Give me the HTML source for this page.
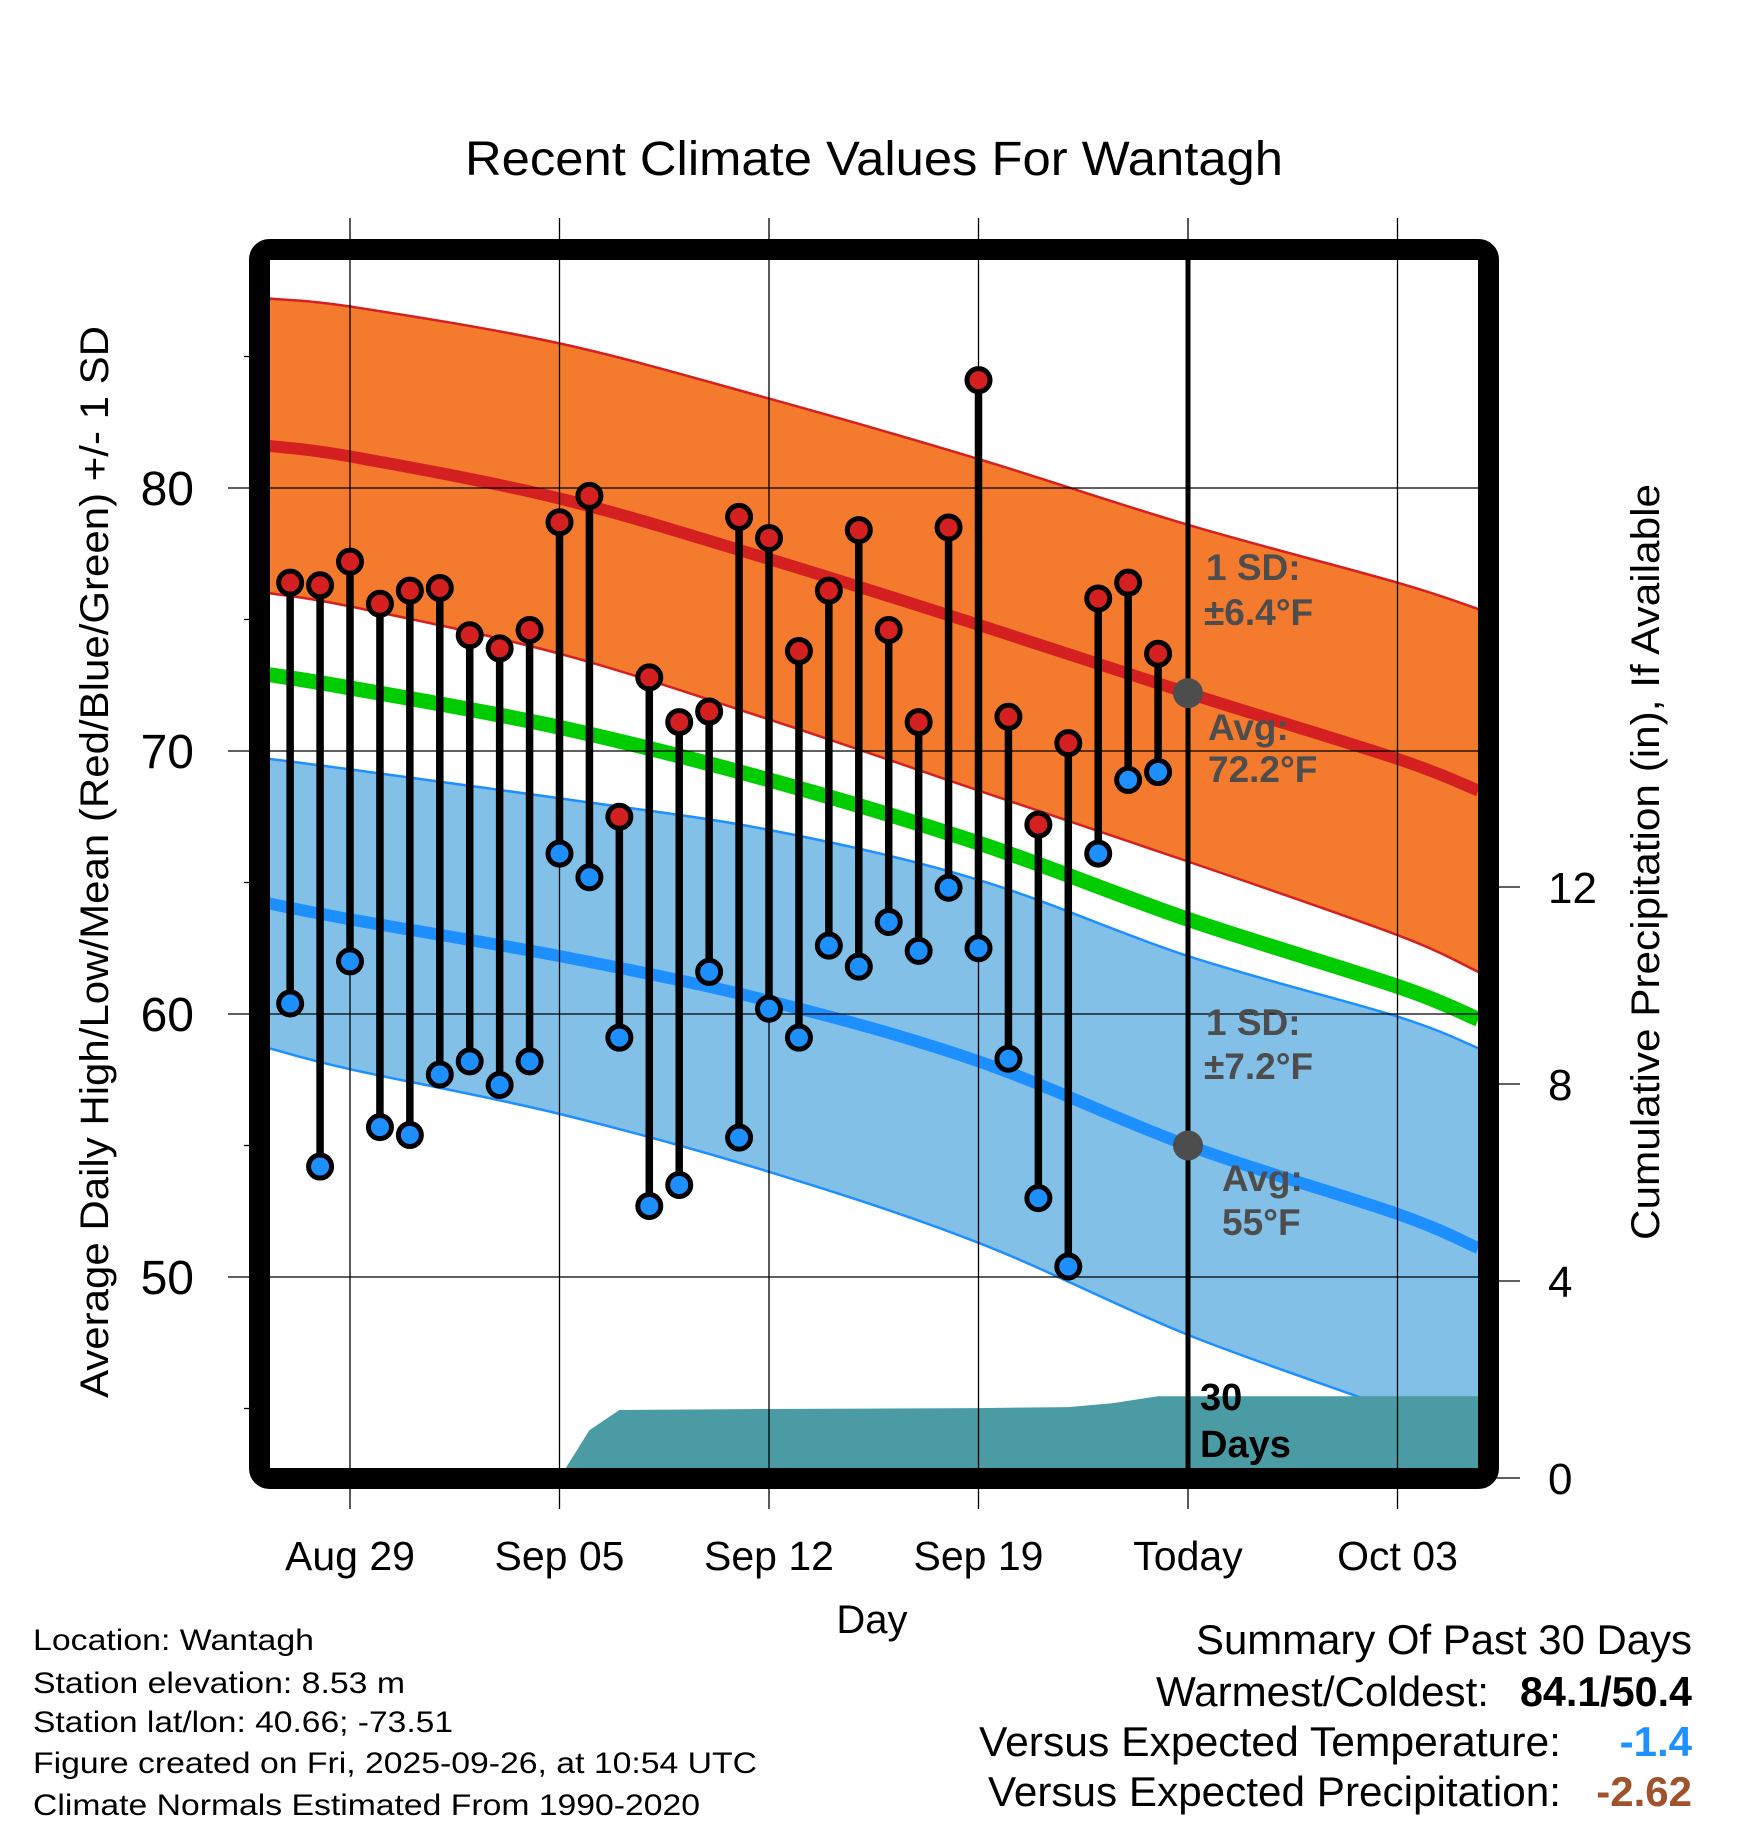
<!DOCTYPE html>
<html><head><meta charset="utf-8"><style>
html,body{margin:0;padding:0;background:#fff;}
svg{display:block;font-family:"Liberation Sans",sans-serif;}
</style></head><body>
<svg id="chart" width="1748" height="1828" viewBox="0 0 1748 1828" xmlns="http://www.w3.org/2000/svg">
<defs><clipPath id="plotclip"><rect x="270" y="260" width="1208" height="1208"/></clipPath></defs>
<text x="874" y="175" text-anchor="middle" font-size="48" textLength="818" lengthAdjust="spacingAndGlyphs">Recent Climate Values For Wantagh</text>
<g id="plot" clip-path="url(#plotclip)"></g>
<g id="overlay"></g>
<rect x="259.5" y="249.5" width="1229" height="1229" rx="10" fill="none" stroke="#000" stroke-width="21"/>
<g id="axes"></g>
<text transform="translate(108,862) rotate(-90)" text-anchor="middle" font-size="40" textLength="1072" lengthAdjust="spacingAndGlyphs">Average Daily High/Low/Mean (Red/Blue/Green) +/- 1 SD</text>
<text transform="translate(1659,862) rotate(-90)" text-anchor="middle" font-size="40" textLength="756" lengthAdjust="spacingAndGlyphs">Cumulative Precipitation (in), If Available</text>
<text x="872" y="1633" text-anchor="middle" font-size="40">Day</text>
<g font-size="30">
<text x="33" y="1650" textLength="281" lengthAdjust="spacingAndGlyphs">Location: Wantagh</text>
<text x="33" y="1693" textLength="372" lengthAdjust="spacingAndGlyphs">Station elevation: 8.53 m</text>
<text x="33" y="1732" textLength="420" lengthAdjust="spacingAndGlyphs">Station lat/lon: 40.66; -73.51</text>
<text x="33" y="1773" textLength="724" lengthAdjust="spacingAndGlyphs">Figure created on Fri, 2025-09-26, at 10:54 UTC</text>
<text x="33" y="1815" textLength="667" lengthAdjust="spacingAndGlyphs">Climate Normals Estimated From 1990-2020</text>
</g>
<g font-size="42">
<text x="1692" y="1654" text-anchor="end" textLength="496" lengthAdjust="spacingAndGlyphs">Summary Of Past 30 Days</text>
<text x="1489" y="1706" text-anchor="end" textLength="333" lengthAdjust="spacingAndGlyphs">Warmest/Coldest:</text>
<text x="1692" y="1706" text-anchor="end" font-weight="bold" textLength="172" lengthAdjust="spacingAndGlyphs">84.1/50.4</text>
<text x="1561" y="1756" text-anchor="end" textLength="582" lengthAdjust="spacingAndGlyphs">Versus Expected Temperature:</text>
<text x="1692" y="1756" text-anchor="end" font-weight="bold" fill="#1e90ff">-1.4</text>
<text x="1561" y="1806" text-anchor="end" textLength="573" lengthAdjust="spacingAndGlyphs">Versus Expected Precipitation:</text>
<text x="1692" y="1806" text-anchor="end" font-weight="bold" fill="#a0522d">-2.62</text>
</g>
</svg>
<script>
// ---- data ----
const normDays = [-2.7, 0, 7, 14, 21, 28, 35, 37.7];
const normHigh = [81.6, 81.2, 79.6, 77.3, 74.8, 72.2, 69.7, 68.5];
const normLow  = [64.2, 63.6, 62.2, 60.5, 58.2, 55.0, 52.4, 51.1];
const sdHigh   = [5.6, 5.7, 5.9, 6.1, 6.3, 6.4, 6.7, 6.9];
const sdLow    = [5.5, 5.7, 6.0, 6.5, 6.9, 7.2, 7.5, 7.6];
const obsDays  = [-2,-1,0,1,2,3,4,5,6,7,8,9,10,11,12,13,14,15,16,17,18,19,20,21,22,23,24,25,26,27];
const obsHigh  = [76.4,76.3,77.2,75.6,76.1,76.2,74.4,73.9,74.6,78.7,79.7,67.5,72.8,71.1,71.5,78.9,78.1,73.8,76.1,78.4,74.6,71.1,78.5,84.1,71.3,67.2,70.3,75.8,76.4,73.7];
const obsLow   = [60.4,54.2,62.0,55.7,55.4,57.7,58.2,57.3,58.2,66.1,65.2,59.1,52.7,53.5,61.6,55.3,60.2,59.1,62.6,61.8,63.5,62.4,64.8,62.5,58.3,53.0,50.4,66.1,68.9,69.2];
const precipDays = [7.0, 8.0, 9.0, 14, 21, 24.0, 25.5, 27.0, 37.7];
const precipVals = [0, 0.97, 1.38, 1.40, 1.42, 1.44, 1.52, 1.66, 1.66];
const xTickDays = [0, 7, 14, 21, 28, 35];
const xTickLabels = ["Aug 29","Sep 05","Sep 12","Sep 19","Today","Oct 03"];
const yTicks = [50, 60, 70, 80];
const yMinorTicks = [45, 55, 65, 75, 85];
const y2Ticks = [0, 4, 8, 12];
const todayDay = 28;

// ---- scales ----
const X = d => 350 + d * (209.5 / 7);
const Y = t => 488 + (80 - t) * 26.3;
const Y2 = p => 1478 - p * 49.25;
const NS = "http://www.w3.org/2000/svg";
function mk(tag, attrs, parent) { const e = document.createElementNS(NS, tag); for (const k in attrs) e.setAttribute(k, attrs[k]); parent.appendChild(e); return e; }
const plot = document.getElementById('plot');
const overlay = document.getElementById('overlay');
const axes = document.getElementById('axes');
const P = (ds, vs) => ds.map((d, i) => [X(d), Y(vs[i])]);
function smooth(p, start) {
  let s = (start ? 'M' : 'L') + p[0][0].toFixed(1) + ',' + p[0][1].toFixed(1);
  for (let i = 0; i < p.length - 1; i++) {
    const p0 = p[i - 1] || p[i], p1 = p[i], p2 = p[i + 1], p3 = p[i + 2] || p2;
    const c1 = [p1[0] + (p2[0] - p0[0]) / 6, p1[1] + (p2[1] - p0[1]) / 6];
    const c2 = [p2[0] - (p3[0] - p1[0]) / 6, p2[1] - (p3[1] - p1[1]) / 6];
    s += ' C' + c1.map(v => v.toFixed(1)).join(',') + ' ' + c2.map(v => v.toFixed(1)).join(',') + ' ' + p2[0].toFixed(1) + ',' + p2[1].toFixed(1);
  }
  return s;
}

const hiUp = normHigh.map((v, i) => v + sdHigh[i]), hiDn = normHigh.map((v, i) => v - sdHigh[i]);
const loUp = normLow.map((v, i) => v + sdLow[i]), loDn = normLow.map((v, i) => v - sdLow[i]);
const mean = normHigh.map((v, i) => (v + normLow[i]) / 2);

let e;
e = mk('path', {d: smooth(P(normDays, hiUp), true) + ' ' + smooth(P(normDays, hiDn).reverse(), false) + ' Z', fill: '#f47a2d'}, plot);
 
e = mk('path', {d: smooth(P(normDays, loUp), true) + ' ' + smooth(P(normDays, loDn).reverse(), false) + ' Z', fill: '#82c0e8'}, plot);
 
[[hiUp,'#d42020'],[hiDn,'#d42020'],[loUp,'#1e8fff'],[loDn,'#1e8fff']].forEach(([a,c]) => {
  const l = mk('path', {d: smooth(P(normDays, a), true), fill: 'none', stroke: c, 'stroke-width': 2.5}, plot);
  
  
});
// precipitation area
const pp = precipDays.map((d, i) => X(d).toFixed(1) + ',' + Y2(precipVals[i]).toFixed(1));
e = mk('polygon', {points: pp.concat([X(precipDays[precipDays.length-1]) + ',1478', X(precipDays[0]) + ',1478']).join(' '), fill: '#4a9ba3'}, plot);
 
e = mk('path', {d: smooth(P(normDays, mean), true), fill: 'none', stroke: '#00cc00', 'stroke-width': 15}, plot);
 
e = mk('path', {d: smooth(P(normDays, normHigh), true), fill: 'none', stroke: '#d42020', 'stroke-width': 12}, plot);
 
e = mk('path', {d: smooth(P(normDays, normLow), true), fill: 'none', stroke: '#1e8fff', 'stroke-width': 12}, plot);
 

// gridlines
yTicks.forEach(t => {
  const g = mk('line', {x1: 228, x2: 1478, y1: Y(t), y2: Y(t), stroke: '#000', 'stroke-width': 1.3}, overlay);
  
  
  const lb = mk('text', {x: 194, y: Y(t) + 17, 'text-anchor': 'end', 'font-size': 48}, axes);
  lb.textContent = t;
  
  
});
yMinorTicks.forEach(t => {
  const g = mk('line', {x1: 244, x2: 250, y1: Y(t), y2: Y(t), stroke: '#000', 'stroke-width': 1.3}, axes);
  
  
});
xTickDays.forEach((d, i) => {
  const g = mk('line', {x1: X(d), x2: X(d), y1: 218, y2: 1509, stroke: '#000', 'stroke-width': 1.3}, overlay);
  
  
  const lb = mk('text', {x: X(d), y: 1570, 'text-anchor': 'middle', 'font-size': 41}, axes);
  lb.textContent = xTickLabels[i];
  
  
});
y2Ticks.forEach(p => {
  const g = mk('line', {x1: 1488, x2: 1520, y1: Y2(p), y2: Y2(p), stroke: '#000', 'stroke-width': 1.3}, axes);
  
  
  const lb = mk('text', {x: 1548, y: Y2(p) + 16, 'font-size': 44}, axes);
  lb.textContent = p;
  
  
});
// today line
e = mk('line', {x1: X(todayDay), x2: X(todayDay), y1: 260, y2: 1468, stroke: '#000', 'stroke-width': 5}, overlay);
 
// annotations
function lbl(x, y, txt, name, col, size) {
  const t = mk('text', {x: x, y: y, 'font-size': size, 'font-weight': 'bold', fill: col}, overlay);
  t.textContent = txt;
  
  
}
lbl(1206, 580, '1 SD:', 'high-sd-label', '#4d4d4d', 37);
lbl(1204, 625, '±6.4°F', 'high-sd-value', '#4d4d4d', 37);
lbl(1208, 740, 'Avg:', 'high-avg-label', '#4d4d4d', 37);
lbl(1208, 782, '72.2°F', 'high-avg-value', '#4d4d4d', 37);
lbl(1206, 1035, '1 SD:', 'low-sd-label', '#4d4d4d', 37);
lbl(1204, 1079, '±7.2°F', 'low-sd-value', '#4d4d4d', 37);
lbl(1222, 1191, 'Avg:', 'low-avg-label', '#4d4d4d', 37);
lbl(1222, 1235, '55°F', 'low-avg-value', '#4d4d4d', 37);
lbl(1200, 1410, '30', 'precip-period-label', '#000', 38);
lbl(1200, 1457, 'Days', 'precip-period-label-days', '#000', 38);
const tHi = normHigh[normDays.indexOf(todayDay)], tLo = normLow[normDays.indexOf(todayDay)];
e = mk('circle', {cx: X(todayDay), cy: Y(tHi), r: 15, fill: '#4d4d4d'}, overlay);
 
e = mk('circle', {cx: X(todayDay), cy: Y(tLo), r: 15, fill: '#4d4d4d'}, overlay);
 
// observations
obsDays.forEach((d, i) => {
  const s = mk('line', {x1: X(d), x2: X(d), y1: Y(obsHigh[i]), y2: Y(obsLow[i]), stroke: '#000', 'stroke-width': 7.5}, overlay);
  
  
});
obsDays.forEach((d, i) => {
  const h = mk('circle', {cx: X(d), cy: Y(obsHigh[i]), r: 11.5, fill: '#d42020', stroke: '#000', 'stroke-width': 5}, overlay);
  
  
  const l = mk('circle', {cx: X(d), cy: Y(obsLow[i]), r: 11.5, fill: '#1e8fff', stroke: '#000', 'stroke-width': 5}, overlay);
  
  
});
</script>
</body></html>
